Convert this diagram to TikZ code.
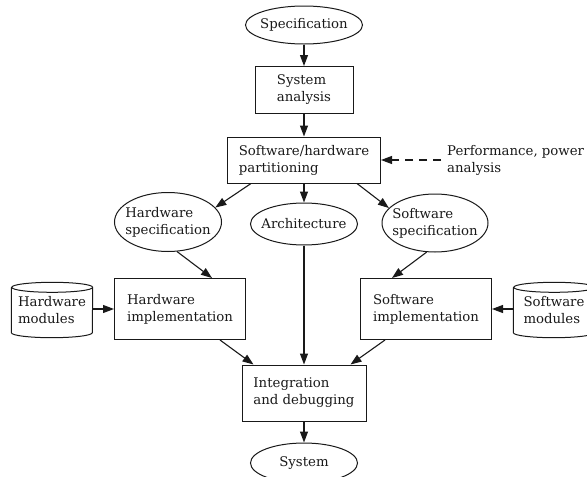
\documentclass[tikz,border=0pt]{standalone}
\usepackage{fontspec}
\setmainfont{DejaVu Serif}
\usetikzlibrary{arrows.meta,shapes.geometric}
\tikzset{
  txt/.style={font=\fontsize{13.3}{17}\selectfont, text=black!90, align=left},
  base/.style={txt, draw=black!90, line width=1pt},
  box/.style={base, rectangle, inner sep=2pt},
  oval/.style={base, ellipse, inner sep=-20pt},
  mod/.style={txt, inner sep=0pt, minimum width=81pt, minimum height=55pt},
  arr/.style={line width=1.1pt, draw=black!90, -{Triangle[length=11pt,width=8pt]}},
  dasharr/.style={arr, dash pattern=on 8pt off 6pt},
  cylline/.style={draw=black!90, line width=1pt}
}
\newcommand\drawcyl[1]{%
  \draw[cylline] ([yshift=-5pt]#1.north west) -- ([yshift=5pt]#1.south west)
    arc[start angle=180,end angle=360,x radius=40.5pt,y radius=5pt]
    -- ([yshift=-5pt]#1.north east)
    arc[start angle=0,end angle=180,x radius=40.5pt,y radius=5pt]
    arc[start angle=180,end angle=360,x radius=40.5pt,y radius=5pt];}
\begin{document}
\begin{tikzpicture}[x=1pt,y=-1pt]
\useasboundingbox (0,0) rectangle (587,477);
\node[oval, minimum width=117pt, minimum height=38pt] (spec) at (304,25) {Specification};
\node[box, minimum width=98pt, minimum height=47pt] (sysan) at (304,90) {System\\analysis};
\node[box, minimum width=153pt, minimum height=46pt] (part) at (304,160) {Software/hardware\\partitioning};
\node[txt, anchor=west, inner sep=0pt] (perf) at (447,160) {Performance, power\\analysis};
\node[oval, minimum width=107pt, minimum height=59pt] (hwspec) at (168,222) {Hardware\\specification};
\node[oval, minimum width=107pt, minimum height=42pt] (arch) at (304,224) {Architecture};
\node[oval, minimum width=106pt, minimum height=58pt] (swspec) at (435,223) {Software\\specification};
\node[mod] (hwmod) at (52,310) {Hardware\\modules};
\node[mod] (swmod) at (554,310) {Software\\modules};
\drawcyl{hwmod}
\drawcyl{swmod}
\node[box, minimum width=131pt, minimum height=61pt] (hwimpl) at (180,309) {Hardware\\implementation};
\node[box, minimum width=131pt, minimum height=61pt] (swimpl) at (426,309) {Software\\implementation};
\node[box, minimum width=124pt, minimum height=56pt] (integ) at (304,393) {Integration\\and debugging};
\node[oval, minimum width=107pt, minimum height=40pt] (sys) at (304,463) {System};

\draw[arr] (spec) -- (sysan);
\draw[arr] (sysan) -- (part);
\draw[arr] (part) -- (arch);
\draw[arr] (arch) -- (integ);
\draw[arr] (integ) -- (sys);
\draw[arr] ([xshift=24pt]part.south west) -- (hwspec.17);
\draw[arr] ([xshift=-24pt]part.south east) -- (swspec.162);
\draw[arr] (hwspec.287) -- ([xshift=32pt]hwimpl.north);
\draw[arr] (swspec.254) -- ([xshift=-34pt]swimpl.north);
\draw[arr] (hwmod.east |- hwimpl.west) -- (hwimpl.west);
\draw[arr] (swmod.west |- swimpl.east) -- (swimpl.east);
\draw[arr] ([xshift=40pt]hwimpl.south) -- ([xshift=12pt]integ.north west);
\draw[arr] ([xshift=-41pt]swimpl.south) -- ([xshift=-16pt]integ.north east);
\draw[dasharr] ([xshift=-6pt]perf.west) -- (part.east);
\end{tikzpicture}
\end{document}
